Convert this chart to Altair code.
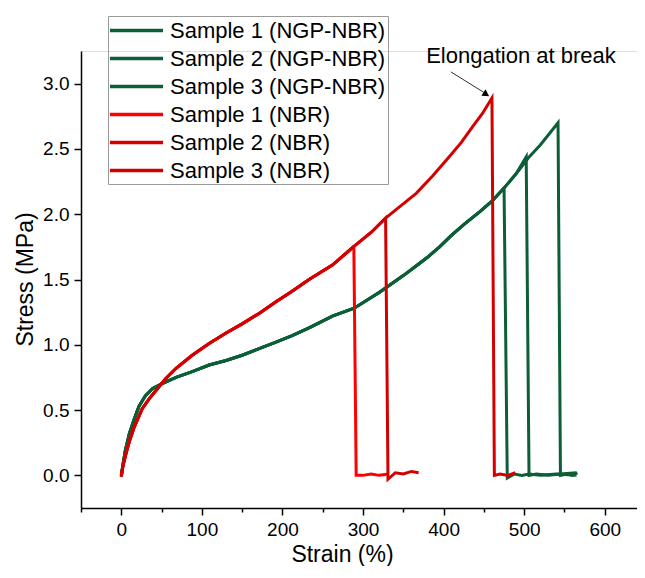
import altair as alt
import pandas as pd

# ---- data ----
series_names = [
    "Sample 1 (NGP-NBR)", "Sample 2 (NGP-NBR)", "Sample 3 (NGP-NBR)",
    "Sample 1 (NBR)", "Sample 2 (NBR)", "Sample 3 (NBR)",
]
series_colors = ["#0b5e36", "#0b5e36", "#0b5e36", "#ff0000", "#d40000", "#d40000"]

# shared loading curves (strain %, stress MPa)
ngp_strain = [0, 2, 5, 10, 16, 22, 30, 39, 50, 68, 88, 109, 130, 150, 171, 192, 212, 233,
              262, 289, 320, 350, 365, 380, 395, 410, 425, 445, 460, 475, 490, 505, 520, 542]
ngp_stress = [0.0, 0.08, 0.19, 0.32, 0.43, 0.53, 0.61, 0.665, 0.70, 0.75, 0.795, 0.845, 0.88, 0.92,
              0.97, 1.02, 1.07, 1.13, 1.22, 1.28, 1.40, 1.53, 1.60, 1.67, 1.75, 1.84, 1.92, 2.02,
              2.10, 2.20, 2.31, 2.43, 2.53, 2.70]
nbr_strain = [0, 2, 6, 10, 16, 26, 35, 43, 55, 68, 88, 109, 130, 150, 171, 192, 212, 233,
              262, 288, 310, 328, 346, 366, 386, 407, 422, 436, 448, 460]
nbr_stress = [-0.01, 0.07, 0.17, 0.26, 0.37, 0.51, 0.59, 0.65, 0.74, 0.82, 0.92, 1.01, 1.09,
              1.16, 1.24, 1.33, 1.41, 1.50, 1.61, 1.75, 1.86, 1.97, 2.06, 2.16, 2.29, 2.44,
              2.55, 2.67, 2.77, 2.89]

break_strain = [475, 502.5, 542, 288.6, 328, 460]
break_stress = [2.20, 2.44, 2.70, 1.75, 1.97, 2.89]
drop_strain = [479, 506, 545, 291.5, 331, 463]
drop_stress = [-0.02, 0.0, 0.0, 0.0, -0.03, 0.0]
tail_strain = [
    [488, 497, 506, 520, 540, 565],
    [515, 530, 545, 565],
    [553, 560, 566],
    [300, 310, 320, 332],
    [340, 350, 360, 369],
    [470, 480, 489],
]
tail_stress = [
    [0.01, 0.0, 0.01, 0.0, 0.01, 0.0],
    [0.01, 0.0, 0.01, 0.02],
    [0.01, 0.0, 0.02],
    [0.0, 0.01, 0.0, 0.01],
    [0.02, 0.01, 0.03, 0.02],
    [0.01, 0.0, 0.02],
]

annot_text = ["Elongation at break"]
annot_strain = [496]
annot_stress = [3.16]
arrow_strain = [409, 452]
arrow_stress = [3.09, 2.925]
arrow_head_strain = [453]
arrow_head_stress = [2.918]

# ---- build table ----
rows = []
for i, name in enumerate(series_names):
    bs, by = (ngp_strain, ngp_stress) if i < 3 else (nbr_strain, nbr_stress)
    k = 0
    for s, v in zip(bs, by):
        if s < break_strain[i]:
            rows.append({"strain": s, "stress": v, "sample": name, "idx": k})
            k += 1
    rows.append({"strain": break_strain[i], "stress": break_stress[i], "sample": name, "idx": k}); k += 1
    rows.append({"strain": drop_strain[i], "stress": drop_stress[i], "sample": name, "idx": k}); k += 1
    for s, v in zip(tail_strain[i], tail_stress[i]):
        rows.append({"strain": s, "stress": v, "sample": name, "idx": k}); k += 1
df = pd.DataFrame(rows)

FONT = "Liberation Sans"
x_scale = alt.Scale(domain=[-50, 640], nice=False, zero=False)
y_scale = alt.Scale(domain=[-0.25, 3.25], nice=False, zero=False)

x_axis = alt.Axis(
    title="Strain (%)", values=list(range(-50, 640, 50)), format="d",
    labelExpr="datum.value % 100 === 0 ? datum.label : ''",
    tickSize=alt.ExprRef("datum.value % 100 === 0 ? 7 : 4"),
    grid=False, domainColor="black", domainWidth=1.5, tickColor="black", tickWidth=1.5,
    labelFont=FONT, labelFontSize=19, labelColor="black", labelPadding=5,
    titleFont=FONT, titleFontSize=23, titleFontWeight="normal", titleColor="black",
    titleX=261, titleY=53, titleAlign="center", titleBaseline="alphabetic",
)
y_axis = alt.Axis(
    title="Stress (MPa)", values=[v / 4 for v in range(0, 14)], format=".1f",
    labelExpr="datum.value % 0.5 === 0 ? datum.label : ''",
    tickSize=alt.ExprRef("datum.value % 0.5 === 0 ? 7 : 4"),
    grid=False, domainColor="black", domainWidth=1.5, tickColor="black", tickWidth=1.5,
    labelFont=FONT, labelFontSize=19, labelColor="black", labelPadding=5,
    titleFont=FONT, titleFontSize=23, titleFontWeight="normal", titleColor="black",
    titleAngle=-90, titleX=-49, titleY=228, titleAlign="center", titleBaseline="alphabetic",
)

lines = alt.Chart(df).mark_line(strokeWidth=3, clip=True).encode(
    x=alt.X("strain:Q", scale=x_scale, axis=x_axis),
    y=alt.Y("stress:Q", scale=y_scale, axis=y_axis),
    color=alt.Color(
        "sample:N",
        scale=alt.Scale(domain=series_names, range=series_colors),
        sort=series_names,
        legend=alt.Legend(
            title=None, orient="none", legendX=27, legendY=-35,
            symbolType="M-2.5,0H2.5", symbolSize=450, symbolStrokeWidth=3.5,
            symbolOffset=14, labelOffset=21,
            labelFont=FONT, labelFontSize=22, labelColor="black", labelLimit=0,
            strokeColor="#9a9a9a", padding=2, rowPadding=4,
        ),
    ),
    order="idx:Q",
)

arrow_df = pd.DataFrame({"strain": [arrow_strain[0]], "stress": [arrow_stress[0]],
                         "strain2": [arrow_strain[1]], "stress2": [arrow_stress[1]]})
arrow = alt.Chart(arrow_df).mark_rule(color="#333333", strokeWidth=1).encode(
    x=alt.X("strain:Q", scale=x_scale), y=alt.Y("stress:Q", scale=y_scale),
    x2="strain2:Q", y2="stress2:Q",
)
head = alt.Chart(pd.DataFrame({"strain": arrow_head_strain, "stress": arrow_head_stress})).mark_point(
    shape="triangle-up", filled=True, color="black", size=60, angle=122, opacity=1,
).encode(x=alt.X("strain:Q", scale=x_scale), y=alt.Y("stress:Q", scale=y_scale))

label = alt.Chart(pd.DataFrame({"strain": annot_strain, "stress": annot_stress, "t": annot_text})).mark_text(
    font=FONT, fontSize=22, color="black", align="center", baseline="alphabetic",
).encode(x=alt.X("strain:Q", scale=x_scale), y=alt.Y("stress:Q", scale=y_scale), text="t:N")

chart = alt.layer(lines, arrow, head, label).properties(
    width=556, height=457,
    autosize=alt.AutoSizeParams(type="none"),
    padding={"left": 73, "top": 43, "right": 0, "bottom": 58},
).configure_view(stroke=None).configure(background="white")

chart.save("out.html", embed_options={"renderer": "svg", "actions": False})
